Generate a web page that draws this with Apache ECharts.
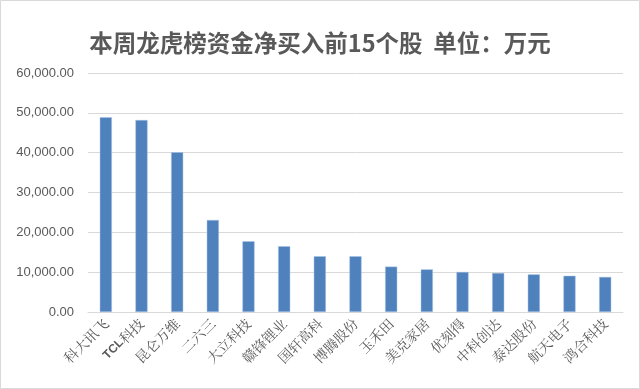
<!DOCTYPE html>
<html>
<head>
<meta charset="utf-8">
<style>
  html, body { margin: 0; padding: 0; background: #fff; }
  #chart { width: 640px; height: 389px; }
</style>
<script src="https://cdn.jsdelivr.net/npm/echarts@6/dist/echarts.min.js"></script>
</head>
<body>
<div id="chart"></div>
<script>
// Top 15 stocks by weekly net buying on the dragon-tiger list (unit: 10k CNY)
const stocks = ['科大讯飞', 'TCL科技', '昆仑万维', '二六三', '大立科技', '赣锋锂业', '国轩高科', '博腾股份', '玉禾田', '美克家居', '优刻得', '中科创达', '泰达股份', '航天电子', '鸿合科技'];
const netBuy = [48900, 48200, 40100, 23100, 17750, 16500, 14000, 14000, 11400, 10700, 10050, 9800, 9450, 9100, 8800];
const yTicks = [0, 10000, 20000, 30000, 40000, 50000, 60000];

// Latin letters in a name get a sans face, CJK characters a serif face
function splitName(name) {
  return name.replace(/([A-Za-z0-9]+)|([^A-Za-z0-9]+)/g, (m, latin, cjk) =>
    latin ? '{lat|' + latin + '}' : '{cjk|' + cjk + '}');
}

const chart = echarts.init(document.getElementById('chart'));
chart.setOption({
  animation: false,
  backgroundColor: '#ffffff',
  title: {
    text: '本周龙虎榜资金净买入前15个股  单位：万元',
    left: 'center',
    top: 26,
    textStyle: { fontFamily: 'Noto Sans CJK SC', fontSize: 23.5, fontWeight: 'bold', color: '#595959' }
  },
  graphic: [{
    type: 'rect',
    shape: { x: 0.5, y: 0.5, width: 639, height: 388 },
    style: { fill: 'none', stroke: '#d9d9d9', lineWidth: 1 }
  }],
  grid: { left: 88, right: 17, top: 73, bottom: 77 },
  xAxis: {
    type: 'category',
    data: stocks,
    axisLine: { lineStyle: { color: '#d9d9d9' } },
    axisTick: { show: false },
    axisLabel: {
      rotate: 45,
      interval: 0,
      margin: 9,
      color: '#595959',
      fontSize: 14,
      formatter: splitName,
      rich: {
        cjk: { fontSize: 14, color: '#595959', fontFamily: 'Noto Serif CJK SC, Noto Sans CJK SC' },
        lat: { fontSize: 12, color: '#595959', fontWeight: 'bold', fontFamily: 'Liberation Sans, Arial' }
      }
    }
  },
  yAxis: {
    type: 'value',
    min: yTicks[0],
    max: yTicks[yTicks.length - 1],
    interval: 10000,
    axisLine: { show: false },
    axisTick: { show: false },
    splitLine: { lineStyle: { color: '#d9d9d9', width: 1 } },
    axisLabel: {
      margin: 14,
      color: '#595959',
      fontSize: 13,
      fontFamily: 'Liberation Sans, Arial',
      formatter: v => v.toLocaleString('en-US', { minimumFractionDigits: 2, maximumFractionDigits: 2 })
    }
  },
  series: [{
    type: 'bar',
    data: netBuy,
    barWidth: '34%',
    itemStyle: { color: '#4f81bd', borderColor: '#a9c4e4', borderWidth: 0.5 }
  }]
});
</script>
</body>
</html>
